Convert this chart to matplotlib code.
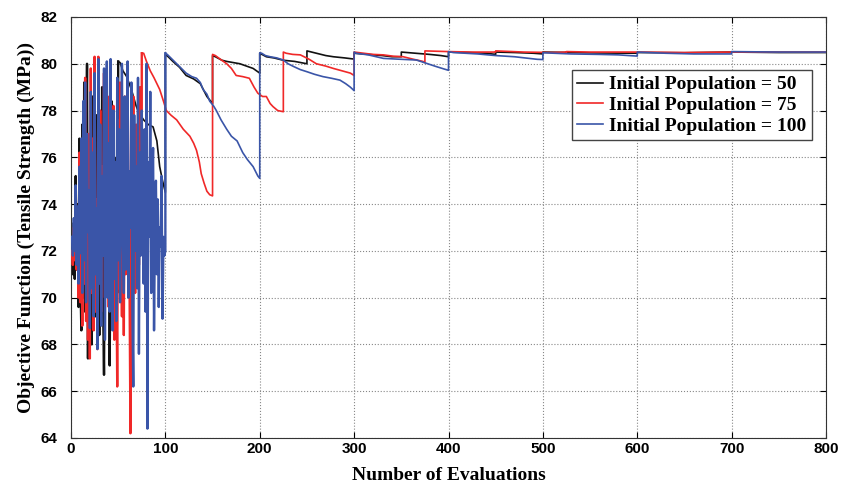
import matplotlib.pyplot as plt

black_color = '#111111'
red_color = '#f02828'
blue_color = '#3a55a8'

# Noisy start of each run (one value per evaluation, x = 1..N)
black_noise = [72.4, 71.0, 73.2, 70.8, 75.2, 71.2, 74.0, 69.6, 76.8, 70.6,
               68.6, 77.4, 70.0, 79.2, 69.4, 75.8, 80.0, 67.4, 76.4, 70.2,
               73.8, 68.0, 78.6, 71.4, 75.0, 69.2, 77.8, 70.8, 73.6, 68.4,
               76.2, 71.6, 79.0, 69.8, 66.7, 74.4, 72.0, 77.0, 70.4, 75.6,
               67.1, 73.4, 78.4, 71.2, 69.6, 76.0, 72.6, 74.8, 70.2, 73.0]
red_noise = [72.0, 71.4, 73.0, 71.6, 74.6, 71.2, 73.6, 70.0, 76.2, 69.8,
             75.0, 68.8, 77.6, 70.6, 79.4, 69.0, 75.4, 68.2, 77.0, 67.4,
             79.8, 70.2, 76.8, 68.6, 80.3, 69.4, 74.2, 67.8, 80.3, 71.0,
             78.0, 69.4, 75.6, 72.4, 79.6, 70.0, 76.8, 71.2, 78.6, 69.6,
             75.4, 80.0, 70.8, 73.2, 78.2, 68.2, 74.6, 71.8, 66.2, 77.6,
             70.4, 79.2, 72.8, 69.2, 76.0, 68.4, 78.6, 71.0, 74.8, 79.4,
             72.2, 70.8, 64.2, 76.4, 71.6, 78.6, 73.0, 70.2, 77.4, 72.0,
             75.2, 71.4, 79.0, 73.8, 76.6]
blue_noise = [72.6, 71.8, 73.4, 72.0, 74.8, 71.4, 73.9, 70.6, 75.6, 71.9,
              76.8, 70.2, 78.4, 71.6, 79.2, 69.8, 77.0, 72.8, 74.6, 68.7,
              78.8, 70.4, 76.2, 69.2, 79.6, 71.0, 73.8, 67.8, 80.2, 70.6,
              77.4, 68.8, 75.2, 71.8, 79.8, 68.2, 74.4, 80.1, 70.0, 76.6,
              69.4, 80.2, 72.2, 68.6, 78.0, 70.8, 75.8, 69.0, 79.4, 71.6,
              77.2, 69.8, 74.0, 80.0, 72.4, 70.2, 78.6, 71.2, 76.0, 80.1,
              70.0, 75.4, 73.0, 79.2, 69.6, 66.2, 77.8, 72.0, 75.6, 70.4,
              79.4, 67.6, 76.2, 71.8, 78.0, 73.6, 70.6, 77.2, 69.4, 80.0,
              64.4, 75.8, 72.6, 78.8, 70.2, 74.8, 76.4, 68.6, 73.2, 75.0,
              71.0, 74.2, 69.6, 73.0, 72.2, 75.2, 69.1, 72.6, 71.8, 72.0]

# Restart / decay phases (evaluation, value)
black_x = [50, 52, 55, 59, 64, 69, 72, 77, 82, 87, 91, 94, 97, 100,
           100, 103, 108, 115, 122, 130, 137, 144, 150,
           150, 153, 160, 165, 172, 179, 186, 193, 200,
           200, 207, 215, 225, 237, 250,
           250, 260, 270, 278, 290, 300,
           300, 315, 330, 340, 350,
           350, 365, 380, 392, 400,
           400, 420, 440, 450,
           450, 470, 490, 500,
           500, 530, 560, 600,
           600, 650, 700, 750, 800]
black_y = [80.1, 80.05, 79.7, 79.45, 78.9, 78.2, 77.9, 77.6, 77.4, 77.3, 76.7, 75.6, 75.0, 74.5,
           80.4, 80.3, 80.1, 79.85, 79.5, 79.35, 79.15, 78.6, 78.3,
           80.35, 80.3, 80.15, 80.1, 80.05, 80.0, 79.9, 79.8, 79.6,
           80.45, 80.3, 80.25, 80.15, 80.1, 80.0,
           80.55, 80.45, 80.35, 80.3, 80.25, 80.2,
           80.45, 80.4, 80.35, 80.3, 80.3,
           80.5, 80.45, 80.4, 80.35, 80.3,
           80.5, 80.48, 80.45, 80.4,
           80.5, 80.48, 80.45, 80.42,
           80.5, 80.48, 80.46, 80.45,
           80.48, 80.47, 80.5, 80.48, 80.48]

red_x = [75, 77, 80, 84, 88, 94, 98, 101, 106, 112, 119, 126, 130, 133, 136, 138, 141, 144, 147, 150,
         150, 153, 158, 165, 170, 175, 182, 189, 194, 198, 203, 207, 211, 214, 219, 225,
         225, 228, 235, 243, 252, 260, 270, 278, 287, 296, 300,
         300, 310, 320, 331, 342, 352, 362, 373, 375,
         375, 400, 425, 450,
         450, 480, 510, 525,
         525, 550, 575, 600,
         600, 650, 700, 750, 800]
red_y = [80.45, 80.45, 80.1, 79.7, 79.4, 78.9, 78.4, 78.0, 77.8, 77.6, 77.2, 76.9, 76.6, 76.3, 75.8, 75.3, 74.9, 74.55, 74.4, 74.35,
         80.4, 80.35, 80.2, 80.0, 79.8, 79.5, 79.45, 79.38, 79.0, 78.74, 78.6, 78.6, 78.3, 78.17, 78.0, 77.95,
         80.5, 80.45, 80.4, 80.38, 80.2, 80.0, 79.9, 79.8, 79.7, 79.6, 79.5,
         80.5, 80.45, 80.4, 80.38, 80.32, 80.3, 80.2, 80.1, 80.05,
         80.55, 80.52, 80.5, 80.5,
         80.55, 80.5, 80.48, 80.5,
         80.52, 80.5, 80.5, 80.5,
         80.5, 80.48, 80.5, 80.5, 80.5]

blue_x = [100, 102, 107, 112, 117, 122, 128, 133, 137, 140, 144, 147, 151, 154, 159, 165, 170, 176, 182, 187, 193, 198, 200,
          200, 202, 206, 211, 218, 225, 230, 236, 243, 250, 258, 267, 276, 285, 291, 296, 300,
          300, 302, 315, 331, 345, 366, 378, 387, 395, 400,
          400, 405, 431, 450, 470, 494, 500,
          500, 530, 560, 580, 599, 600,
          600, 630, 660, 690, 700,
          700, 750, 800]
blue_y = [80.45, 80.4, 80.2, 80.0, 79.8, 79.6, 79.45, 79.38, 79.2, 78.9, 78.7, 78.4, 78.2, 78.0, 77.6, 77.2, 76.9, 76.7, 76.2, 75.9, 75.6, 75.2, 75.1,
          80.47, 80.45, 80.35, 80.3, 80.25, 80.16, 80.0, 79.88, 79.75, 79.66, 79.55, 79.45, 79.38, 79.3, 79.15, 79.0, 78.85,
          80.5, 80.45, 80.38, 80.23, 80.2, 80.16, 80.0, 79.88, 79.78, 79.72,
          80.52, 80.48, 80.42, 80.35, 80.3, 80.19, 80.18,
          80.47, 80.42, 80.4, 80.38, 80.33, 80.33,
          80.5, 80.45, 80.42, 80.42, 80.42,
          80.52, 80.5, 80.5]

series = [
    ('Initial Population = 50', black_noise, black_x, black_y, black_color),
    ('Initial Population = 75', red_noise, red_x, red_y, red_color),
    ('Initial Population = 100', blue_noise, blue_x, blue_y, blue_color),
]

fig = plt.figure(figsize=(8.44, 4.88), dpi=100)
ax = fig.add_axes([0.0841, 0.1025, 0.8946, 0.8627])

for i, (label, noise, dx, dy, color) in enumerate(series):
    nx = list(range(1, len(noise) + 1))
    # dense exploration phase drawn a bit heavier, then the restart/decay phases
    ax.plot(nx + dx[:1], noise + dy[:1], color=color, linewidth=1.7, zorder=2 + i)
    ax.plot(dx, dy, color=color, linewidth=1.2, label=label, zorder=2 + i)

ax.set_xlim(0, 800)
ax.set_ylim(64, 82)
ax.set_xticks(range(0, 801, 100))
ax.set_yticks(range(64, 83, 2))
ax.grid(True, linestyle=':', color='#888888', linewidth=0.8)
ax.tick_params(direction='in', top=True, right=True, length=4, width=0.8)
ax.tick_params(axis='y', pad=10)
ax.tick_params(axis='x', pad=3)
for lbl in ax.get_xticklabels() + ax.get_yticklabels():
    lbl.set_family('Liberation Sans')
    lbl.set_fontweight('bold')
    lbl.set_fontsize(11)
for sp in ax.spines.values():
    sp.set_color('#333333')

ax.set_xlabel('Number of Evaluations', family='Liberation Serif', fontweight='bold', fontsize=14, labelpad=8)
ax.set_ylabel('Objective Function (Tensile Strength (MPa))', family='Liberation Serif', fontweight='bold', fontsize=14, labelpad=4)

leg = ax.legend(loc='upper right', bbox_to_anchor=(0.981, 0.874), fancybox=False,
                prop={'family': 'Liberation Serif', 'weight': 'bold', 'size': 14},
                handlelength=1.3, handletextpad=0.3, borderpad=0.3, labelspacing=0.15,
                borderaxespad=0)
leg.get_frame().set_edgecolor('#444444')
leg.get_frame().set_linewidth(1.0)
leg.get_frame().set_alpha(1.0)

plt.savefig('out.png', dpi=100)
